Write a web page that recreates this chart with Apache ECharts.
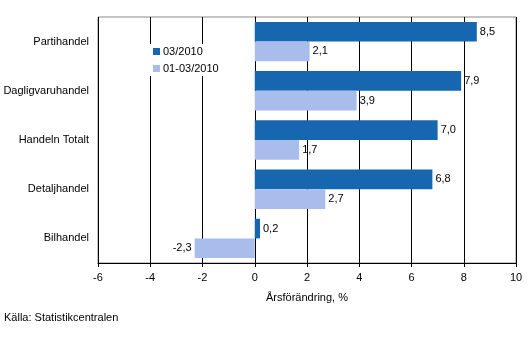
<!DOCTYPE html>
<html><head><meta charset="utf-8">
<script src="https://cdn.jsdelivr.net/npm/echarts@6/dist/echarts.min.js"></script>
<style>html,body{margin:0;padding:0;background:#fff}#c{width:530px;height:357px}</style>
</head><body><div id="c"></div>
<script>
var categories = ["Partihandel", "Dagligvaruhandel", "Handeln Totalt", "Detaljhandel", "Bilhandel"];
var seriesNames = ["03/2010", "01-03/2010"];
var valuesMonth = [8.5, 7.9, 7.0, 6.8, 0.2];
var valuesQuarter = [2.1, 3.9, 1.7, 2.7, -2.3];
var xTicks = [-6, -4, -2, 0, 2, 4, 6, 8, 10];

var font = "Liberation Sans, Arial, sans-serif";
function fmt(p){ return p.value.toFixed(1).replace('.', ','); }
function lbl(){ return { show: true, position: 'right', distance: 3, formatter: fmt, color: '#000', fontSize: 11, fontFamily: font }; }

var chart = echarts.init(document.getElementById('c'), null, {renderer: 'canvas'});
chart.setOption({
  animation: false,
  backgroundColor: '#fff',
  textStyle: { fontFamily: font },
  grid: { left: 98, right: 14, top: 17, bottom: 94, show: true, borderColor: '#888', borderWidth: 1, backgroundColor: 'transparent' },
  legend: {
    orient: 'vertical', left: 150, top: 44, itemWidth: 7, itemHeight: 7, itemGap: 6,
    backgroundColor: '#fff', padding: [2, 3, 2, 3],
    icon: 'rect',
    textStyle: { fontSize: 11, fontFamily: font, color: '#000', padding: [0, 0, 0, -2] },
    data: seriesNames
  },
  xAxis: {
    type: 'value', min: xTicks[0], max: xTicks[xTicks.length - 1], interval: 2,
    name: 'Årsförändring, %', nameLocation: 'middle', nameGap: 29,
    nameTextStyle: { fontSize: 11, fontFamily: font, color: '#000' },
    axisLine: { show: true, onZero: false, lineStyle: { color: '#000', width: 1 } },
    axisTick: { show: true, length: 4, lineStyle: { color: '#000' } },
    axisLabel: { fontSize: 11, fontFamily: font, color: '#000', margin: 9 },
    splitLine: { show: true, lineStyle: { color: '#000', width: 1 } }
  },
  yAxis: {
    type: 'category', data: categories, inverse: true,
    axisLine: { show: true, onZero: true, lineStyle: { color: '#000', width: 1 } },
    axisTick: { show: false },
    axisLabel: { fontSize: 11, fontFamily: font, color: '#000', margin: 9 },
    splitLine: { show: false }
  },
  series: [
    { name: seriesNames[0], type: 'bar', data: valuesMonth, barGap: '0%', barCategoryGap: '20%',
      itemStyle: { color: '#1767b0' }, label: lbl(), z: 3 },
    { name: seriesNames[1], type: 'bar', data: valuesQuarter.map(function(v){
        return v < 0 ? { value: v, label: { position: 'left' } } : v; }),
      itemStyle: { color: '#a8bdeb' }, label: lbl(), z: 3 }
  ],
  graphic: [
    { type: 'text', left: 4, top: 312, style: { text: 'Källa: Statistikcentralen', fontSize: 11, fontFamily: font, fill: '#000' } }
  ]
});
</script>
</body></html>
